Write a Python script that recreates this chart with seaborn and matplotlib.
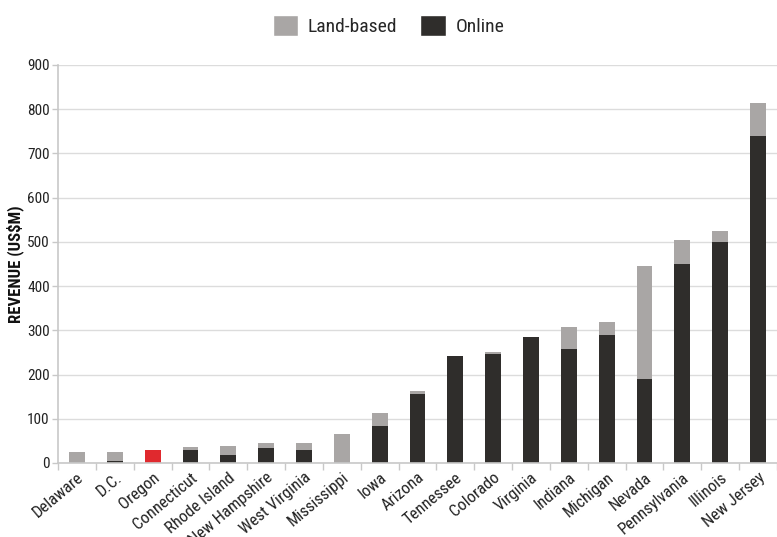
import matplotlib
matplotlib.use("Agg")
import matplotlib.pyplot as plt
import seaborn as sns
import pandas as pd
import numpy as np
from matplotlib.patches import Patch
from matplotlib.ticker import FixedLocator

states = ["Delaware", "D.C.", "Oregon", "Connecticut", "Rhode Island", "New Hampshire",
          "West Virginia", "Mississippi", "Iowa", "Arizona", "Tennessee", "Colorado",
          "Virginia", "Indiana", "Michigan", "Nevada", "Pennsylvania", "Illinois", "New Jersey"]
online = [0, 5, 30, 30, 18, 34, 30, 0, 84, 156, 242, 246, 285, 258, 290, 190, 450, 500, 740]
land_based = [25, 20, 0, 6, 21, 12, 16, 66, 29, 7, 0, 5, 0, 50, 29, 256, 55, 25, 74]

LAND = "#a9a6a5"
ONLINE = "#2f2d2b"
HIGHLIGHT = "#e0292e"
FONTS = ["Roboto Condensed", "Roboto", "DejaVu Sans"]

df = pd.DataFrame({"state": states, "online": online, "land": land_based})
df["total"] = df["online"] + df["land"]

sns.set_theme(style="white")
plt.rcParams["font.family"] = FONTS

fig = plt.figure(figsize=(7.77, 5.37), dpi=100)
ax = fig.add_axes([58 / 777, 1 - 463 / 537, 719 / 777, 398 / 537])

# full stack height in the land-based colour, online share drawn on top of it
sns.barplot(data=df, x="state", y="total", hue="state", palette=[LAND] * len(states),
            width=0.42, ax=ax, legend=False, saturation=1, linewidth=0)
online_pal = [HIGHLIGHT if s == "Oregon" else ONLINE for s in states]
sns.barplot(data=df, x="state", y="online", hue="state", palette=online_pal,
            width=0.42, ax=ax, legend=False, saturation=1, linewidth=0)

ax.set_xlim(-0.5, len(states) - 0.5)
ax.set_ylim(0, 900)
ax.set_yticks(np.arange(0, 901, 100))
ax.yaxis.grid(True, color="#dcdcdc", linewidth=1)
ax.set_axisbelow(True)

for side in ["top", "right"]:
    ax.spines[side].set_visible(False)
for side in ["left", "bottom"]:
    ax.spines[side].set_color("#c8c8c8")
    ax.spines[side].set_linewidth(1.2)

ax.set_xlabel("")
ax.set_ylabel("REVENUE (US$M)", fontsize=12, fontweight="bold", color="#111111")
ax.yaxis.set_label_coords(-0.047, 0.5)
ax.set_xticks(range(len(states)))
ax.set_xticklabels(states, rotation=40, ha="right", rotation_mode="anchor", fontsize=12, color="#222222")
ax.tick_params(axis="x", which="major", length=0, pad=5)
ax.xaxis.set_minor_locator(FixedLocator(np.arange(-0.5, len(states), 1.0)))
ax.tick_params(axis="x", which="minor", length=5, width=1, color="#c8c8c8", bottom=True)
ax.tick_params(axis="y", length=4, width=1, color="#c8c8c8", labelsize=11, labelcolor="#222222", left=True, pad=2)

handles = [Patch(facecolor=LAND, label="Land-based"), Patch(facecolor=ONLINE, label="Online")]
fig.legend(handles=handles, loc="upper center", bbox_to_anchor=(0.5, 1.005), ncol=2, frameon=False,
           handlelength=1.3, handleheight=1.3, handletextpad=0.5, columnspacing=1.2,
           prop={"family": FONTS, "size": 14})

fig.savefig("out.png", dpi=100)
